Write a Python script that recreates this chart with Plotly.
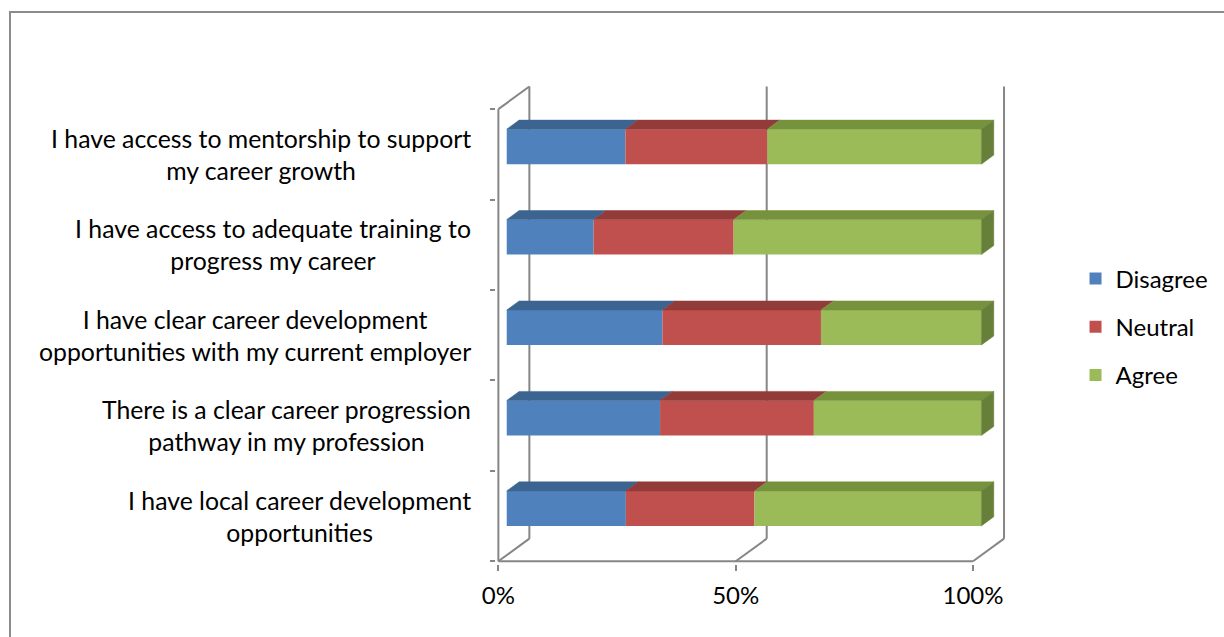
import plotly.graph_objects as go

# ---------------- data ----------------
categories = [
    "I have local career development<br>opportunities",
    "There is a clear career progression<br>pathway in my profession",
    "I have clear career development<br>opportunities with my current employer",
    "I have access to adequate training to<br>progress my career",
    "I have access to mentorship to support<br>my career growth",
]
series_names = ["Disagree", "Neutral", "Agree"]
disagree = [25.1, 32.3, 32.8, 18.3, 25.0]
neutral = [27.1, 32.4, 33.4, 29.5, 29.9]
agree = [47.8, 35.3, 33.8, 52.2, 45.1]
x_tick_vals = [0, 50, 100]
x_tick_text = ["0%", "50%", "100%"]

# ---------------- style ----------------
front_colors = ["#4F81BD", "#C0504D", "#9BBB59"]
top_colors = ["#3C6491", "#923B39", "#76923C"]
side_color = "#66803A"
grid_color = "#868686"
FONT = "Lato"
FS = 24
FS_CAT = 24.8

DEPTH_DX = 6.53    # full depth shift in x units
DEPTH_DY = 0.25    # full depth shift in y units
BAR_FRONT = 0.27   # depth fraction of bar front face
BAR_DEPTH = 0.40   # depth fraction of bar thickness
BAR_H = 0.387
BAR_YOFF = 0.085

ML, MR, MT, MB = 496, 213, 82, 73
PW = 1224 - ML - MR
PH = 637 - MT - MB

fig = go.Figure()

values = [disagree, neutral, agree]
n = len(categories)
ypos = list(range(n))
sx = BAR_FRONT * DEPTH_DX
ddx = BAR_DEPTH * DEPTH_DX
ddy = BAR_DEPTH * DEPTH_DY

starts = [[0.0] * n for _ in range(3)]
for s in range(1, 3):
    for i in range(n):
        starts[s][i] = starts[s - 1][i] + values[s - 1][i]

# front faces (bars)
for s in range(3):
    fig.add_trace(go.Bar(
        orientation="h",
        y=[y + BAR_YOFF for y in ypos],
        x=values[s],
        base=[b + sx for b in starts[s]],
        width=BAR_H,
        marker=dict(color=front_colors[s], line=dict(width=0)),
        name=series_names[s],
        legendgroup=series_names[s],
        hoverinfo="skip",
    ))

# top faces
for s in range(3):
    for i in range(n):
        x0 = starts[s][i] + sx
        x1 = x0 + values[s][i]
        yt = ypos[i] + BAR_YOFF + BAR_H / 2
        fig.add_trace(go.Scatter(
            x=[x0, x1, x1 + ddx, x0 + ddx, x0],
            y=[yt, yt, yt + ddy, yt + ddy, yt],
            mode="lines", fill="toself",
            fillcolor=top_colors[s],
            line=dict(color=top_colors[s], width=0.5),
            showlegend=False, hoverinfo="skip",
        ))

# side faces (right end)
for i in range(n):
    xe = starts[2][i] + values[2][i] + sx
    yt = ypos[i] + BAR_YOFF + BAR_H / 2
    yb = ypos[i] + BAR_YOFF - BAR_H / 2
    fig.add_trace(go.Scatter(
        x=[xe, xe, xe + ddx, xe + ddx, xe],
        y=[yb, yt, yt + ddy, yb + ddy, yb],
        mode="lines", fill="toself",
        fillcolor=side_color,
        line=dict(color=side_color, width=0.5),
        showlegend=False, hoverinfo="skip",
    ))

# walls / floor lines (behind bars)
shapes = []
ylo, yhi = -0.5, n - 0.5
xlo, xhi = x_tick_vals[0], x_tick_vals[-1]
for xv in x_tick_vals:
    shapes.append(dict(type="line", xref="x", yref="y", layer="below",
                       x0=xv + DEPTH_DX, x1=xv + DEPTH_DX,
                       y0=ylo + DEPTH_DY, y1=yhi + DEPTH_DY,
                       line=dict(color=grid_color, width=2)))
    shapes.append(dict(type="line", xref="x", yref="y", layer="below",
                       x0=xv, x1=xv + DEPTH_DX, y0=ylo, y1=ylo + DEPTH_DY,
                       line=dict(color=grid_color, width=2)))
shapes.append(dict(type="line", xref="x", yref="y", layer="below",
                   x0=xlo, x1=xlo + DEPTH_DX, y0=yhi, y1=yhi + DEPTH_DY,
                   line=dict(color=grid_color, width=2)))
# front axes
shapes.append(dict(type="line", xref="x", yref="y", layer="above",
                   x0=xlo, x1=xlo, y0=ylo, y1=yhi,
                   line=dict(color=grid_color, width=2)))
shapes.append(dict(type="line", xref="x", yref="y", layer="above",
                   x0=xlo, x1=xhi, y0=ylo, y1=ylo,
                   line=dict(color=grid_color, width=2)))
# chart border
shapes.append(dict(type="rect", xref="paper", yref="paper",
                   x0=(10 - ML) / PW, x1=2.0,
                   y0=-0.5, y1=1 + (MT - 12) / PH,
                   line=dict(color="#8C8C8C", width=2), fillcolor="rgba(0,0,0,0)",
                   layer="below"))

annotations = []
for i, c in enumerate(categories):
    annotations.append(dict(
        x=(473 - ML) / PW, y=ypos[i], xref="paper", yref="y", text=c,
        xanchor="right", yanchor="middle", align="center", showarrow=False,
        font=dict(family=FONT, size=FS_CAT, color="#000000"),
    ))

fig.update_layout(
    width=1224, height=637,
    margin=dict(l=ML, r=MR, t=MT, b=MB),
    paper_bgcolor="white", plot_bgcolor="white",
    barmode="overlay",
    showlegend=True,
    legend=dict(
        xref="container", yref="container", x=0.8787, y=1 - 327 / 637,
        xanchor="left", yanchor="middle",
        font=dict(family=FONT, size=FS, color="#000000"),
        tracegroupgap=14, traceorder="grouped",
        bgcolor="rgba(0,0,0,0)",
    ),
    xaxis=dict(range=[-0.5, 108], tickvals=x_tick_vals, ticktext=x_tick_text,
               showgrid=False, zeroline=False, showline=False,
               ticks="outside", ticklen=6, tickwidth=2, tickcolor=grid_color,
               ticklabelstandoff=4,
               tickfont=dict(family=FONT, size=FS, color="#000000"),
               fixedrange=True),
    yaxis=dict(range=[-0.53, 4.8], tickvals=[k - 0.5 for k in range(n + 1)],
               showticklabels=False, showgrid=False, zeroline=False,
               showline=False,
               ticks="outside", ticklen=5, tickwidth=2, tickcolor=grid_color,
               fixedrange=True),
    shapes=shapes,
    annotations=annotations,
)

fig.write_html("out.html", config={"displayModeBar": False},
               post_script="document.body.style.margin='0';")
